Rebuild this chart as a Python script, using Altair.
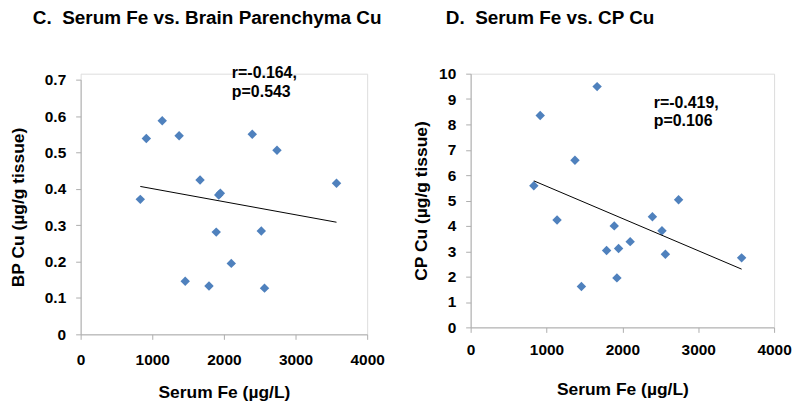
import altair as alt
import pandas as pd

serum_fe = [833, 917, 1139, 1375, 1460, 1667, 1792, 1893, 1928, 1950, 2103, 2396, 2522, 2567, 2741, 3572]
bp_cu = [0.371, 0.538, 0.587, 0.546, 0.146, 0.424, 0.133, 0.281, 0.383, 0.388, 0.195, 0.550, 0.284, 0.127, 0.506, 0.415]
cp_cu = [5.58, 8.35, 4.23, 6.59, 1.61, 9.49, 3.03, 4.00, 1.95, 3.11, 3.38, 4.36, 3.81, 2.88, 5.03, 2.74]

titles = ["C.\u00a0 Serum Fe vs. Brain Parenchyma Cu", "D.\u00a0 Serum Fe vs. CP Cu"]
y_titles = ["BP Cu (µg/g tissue)", "CP Cu (µg/g tissue)"]
x_title = "Serum Fe (µg/L)"
stats = [["r=-0.164,", "p=0.543"], ["r=-0.419,", "p=0.106"]]
x_ticks = [0, 1000, 2000, 3000, 4000]
y_ticks_c = [0, 0.1, 0.2, 0.3, 0.4, 0.5, 0.6, 0.7]
y_ticks_d = [0, 1, 2, 3, 4, 5, 6, 7, 8, 9, 10]

df = pd.DataFrame({"fe": serum_fe, "bp": bp_cu, "cp": cp_cu})

FONT = "Liberation Sans"
BLUE = "#4F81BD"
AXIS_GRAY = "#ADADAD"


def panel(ycol, ytitle, yticks, ydomain, yrange, title, stat, width, height,
          ann_x, ann_y, title_dx, title_y, ylabel_expr, ytitle_pad, xtitle_pad, xlabel_pad):
    xax = alt.X("fe:Q", scale=alt.Scale(domain=[0, 4000], nice=False),
                axis=alt.Axis(values=x_ticks, tickCount=5, title=x_title, grid=False, domainColor=AXIS_GRAY,
                              tickColor=AXIS_GRAY, tickSize=5, labelFont=FONT, labelFontWeight="bold",
                              labelFontSize=15.5, labelColor="black", labelPadding=xlabel_pad,
                              labelFlush=False, labelOverlap=False,
                              titleFont=FONT, titleFontWeight="bold", titleFontSize=17.5,
                              titleColor="black", titlePadding=xtitle_pad, format="d"))
    yax = alt.Y(f"{ycol}:Q", scale=alt.Scale(domain=ydomain, range=yrange, nice=False),
                axis=alt.Axis(values=yticks, tickCount=len(yticks), title=ytitle, grid=False,
                              domainColor=AXIS_GRAY,
                              tickColor=AXIS_GRAY, tickSize=5, labelFont=FONT, labelFontWeight="bold",
                              labelFontSize=15.5, labelColor="black", labelPadding=10,
                              labelFlush=False, labelOverlap=False, labelExpr=ylabel_expr,
                              titleFont=FONT, titleFontWeight="bold", titleFontSize=17.5,
                              titleColor="black", titlePadding=ytitle_pad))
    base = alt.Chart(df)
    pts = base.mark_point(shape="diamond", filled=True, size=90, color=BLUE, opacity=1).encode(x=xax, y=yax)
    line = base.transform_regression("fe", ycol).mark_line(color="black", strokeWidth=1).encode(
        x=xax, y=yax)
    ann = alt.Chart(pd.DataFrame({"stat": [stat[0] + "\n" + stat[1]]})).mark_text(
        align="left", baseline="top", font=FONT, fontWeight="bold", fontSize=16, color="black",
        lineBreak="\n", lineHeight=19).encode(x=alt.value(ann_x), y=alt.value(ann_y), text="stat:N")
    ttl = alt.Chart(pd.DataFrame({"ttl": [title]})).mark_text(
        align="left", baseline="middle", font=FONT, fontWeight="bold", fontSize=19, color="black",
        dx=title_dx
    ).encode(x=alt.value(0), y=alt.value(title_y), text="ttl:N")
    return alt.layer(pts, line, ann, ttl).properties(width=width, height=height)


c = panel("bp", y_titles[0], y_ticks_c, [0, 0.7], [262, 6], titles[0], stats[0], 288, 262,
          152, -9, -48, -55.5, "datum.value == 0 ? '0' : format(datum.value, '.1f')", 17, 16, 13)
d = panel("cp", y_titles[1], y_ticks_d, [0, 10], [255, 0], titles[1], stats[1], 305, 255,
          184, 21, -25, -55.5, "format(datum.value, 'd')", 8, 23, 10)

chart = alt.hconcat(c, d, spacing=27).configure_view(stroke=None).configure(
    background="white", padding=0)
chart.save("out.html", embed_options={"renderer": "svg", "actions": False})
